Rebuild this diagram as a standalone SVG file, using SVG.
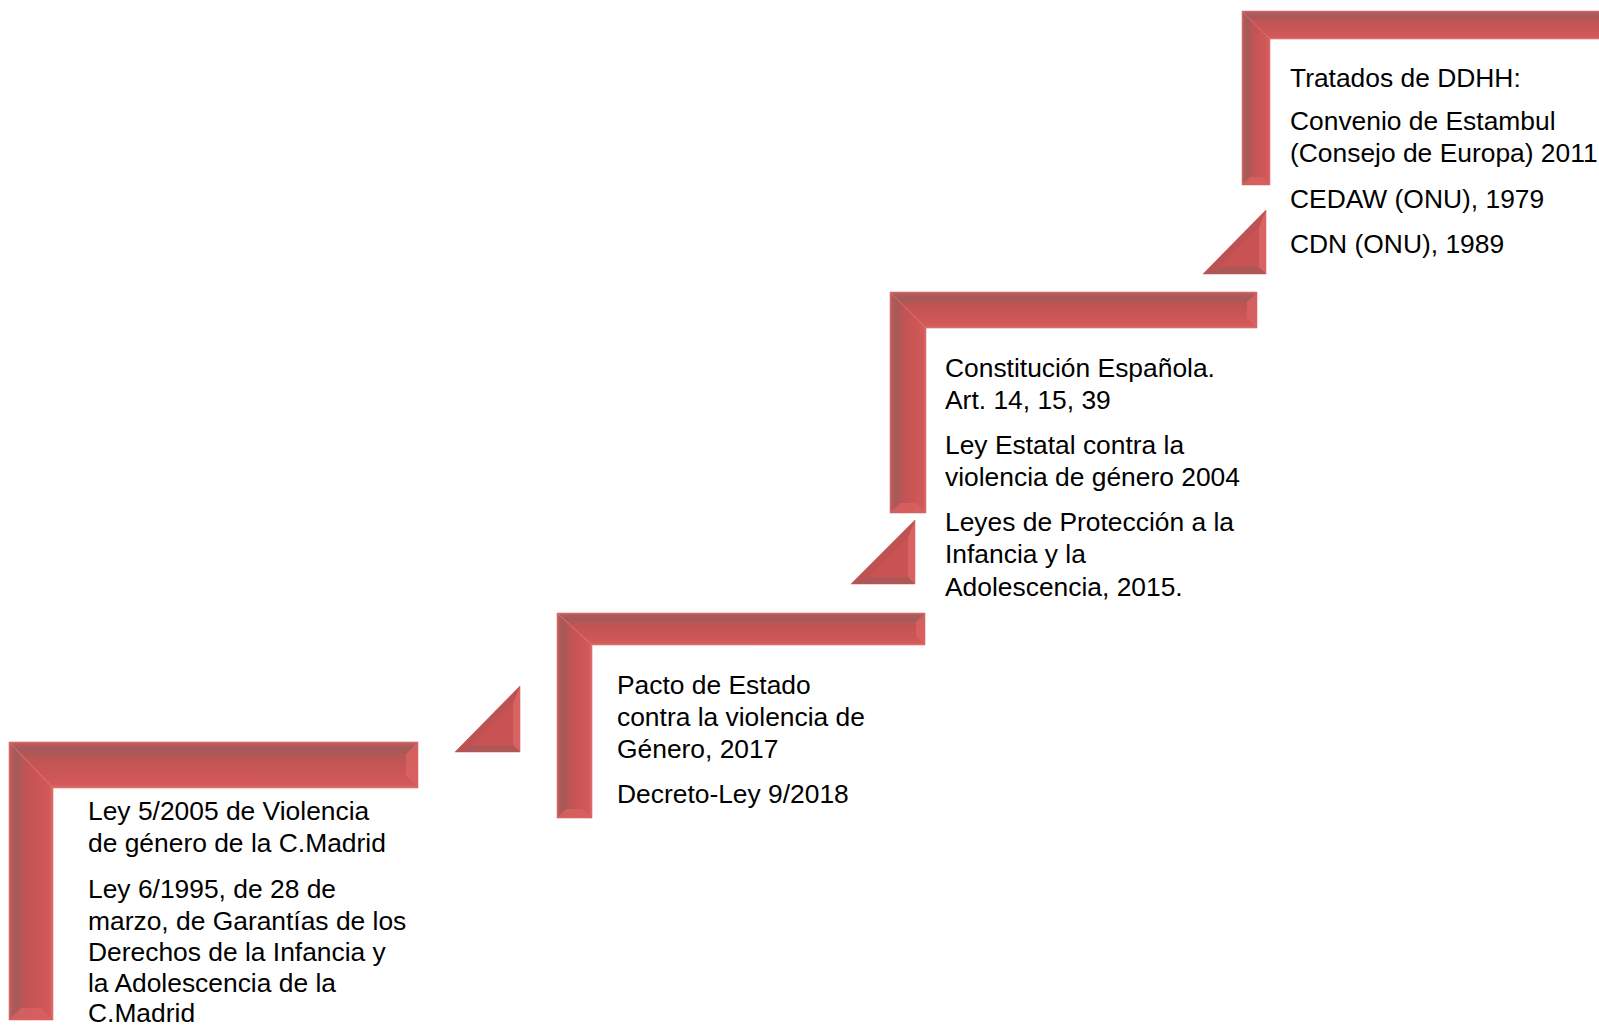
<svg xmlns="http://www.w3.org/2000/svg" width="1599" height="1026" viewBox="0 0 1599 1026">
  <style>
    .txt { font-family: "Liberation Sans", Arial, sans-serif; font-size: 26.4px; fill: #000000; }
    .hbar { fill: url(#gH); stroke: #d97272; stroke-width: 1; stroke-opacity: 0.6; }
    .vbar { fill: url(#gV); stroke: #d97272; stroke-width: 1; stroke-opacity: 0.6; }
    .endf { fill: #d96262; opacity: 0.85; }
    .botf { fill: #d86060; opacity: 0.85; }
    .tri { fill: #c95353; stroke: #d97272; stroke-width: 1; stroke-opacity: 0.6; }
    .tr { fill: #d96363; }
    .tb { fill: #ad5757; }
    .th { fill: #bd5252; }
  </style>
  <defs>
    <linearGradient id="gH" x1="0" y1="0" x2="0" y2="1">
      <stop offset="0" stop-color="#d66262"/>
      <stop offset="0.07" stop-color="#b05a5a"/>
      <stop offset="0.18" stop-color="#a65959"/>
      <stop offset="0.4" stop-color="#c25454"/>
      <stop offset="0.75" stop-color="#ce5656"/>
      <stop offset="0.93" stop-color="#d45a5a"/>
      <stop offset="1" stop-color="#de6c6c"/>
    </linearGradient>
    <linearGradient id="gV" x1="0" y1="0" x2="1" y2="0">
      <stop offset="0" stop-color="#d66262"/>
      <stop offset="0.07" stop-color="#b05a5a"/>
      <stop offset="0.18" stop-color="#a65959"/>
      <stop offset="0.4" stop-color="#c25454"/>
      <stop offset="0.75" stop-color="#ce5656"/>
      <stop offset="0.93" stop-color="#d45a5a"/>
      <stop offset="1" stop-color="#de6c6c"/>
    </linearGradient>
  </defs>
  <rect x="0" y="0" width="1599" height="1026" fill="#ffffff"/>

  <g id="connectors">
    <g id="tri1">
      <polygon class="tri" points="455,752 520,686 520,752"/>
      <polygon class="tr" points="520,686 520,752 513,745 513,703"/>
      <polygon class="tb" points="455,752 520,752 513,745 472,745"/>
      <polygon class="th" points="455,752 520,686 513,703 472,745"/>
    </g>
    <g id="tri2">
      <polygon class="tri" points="851,584 915,520 915,584"/>
      <polygon class="tr" points="915,520 915,584 908,577 908,537"/>
      <polygon class="tb" points="851,584 915,584 908,577 868,577"/>
      <polygon class="th" points="851,584 915,520 908,537 868,577"/>
    </g>
    <g id="tri3">
      <polygon class="tri" points="1203,274 1266,210 1266,274"/>
      <polygon class="tr" points="1266,210 1266,274 1259,267 1259,227"/>
      <polygon class="tb" points="1203,274 1266,274 1259,267 1220,267"/>
      <polygon class="th" points="1203,274 1266,210 1259,227 1220,267"/>
    </g>
  </g>

  <g id="step1">
    <polygon class="hbar" points="9,742 418,742 418,788 53,788"/>
    <polygon class="vbar" points="9,742 53,788 53,1020 9,1020"/>
    <polygon class="endf" points="418,742 418,788 406,776 406,754"/>
    <polygon class="botf" points="9,1020 53,1020 41,1008 21,1008"/>
    <text class="txt" x="88" y="820">Ley 5/2005 de Violencia</text>
    <text class="txt" x="88" y="852">de género de la C.Madrid</text>
    <text class="txt" x="88" y="898">Ley 6/1995, de 28 de</text>
    <text class="txt" x="88" y="930">marzo, de Garantías de los</text>
    <text class="txt" x="88" y="961">Derechos de la Infancia y</text>
    <text class="txt" x="88" y="992">la Adolescencia de la</text>
    <text class="txt" x="88" y="1022">C.Madrid</text>
  </g>

  <g id="step2">
    <polygon class="hbar" points="557,613 925,613 925,645 592,645"/>
    <polygon class="vbar" points="557,613 592,645 592,818 557,818"/>
    <polygon class="endf" points="925,613 925,645 916,636 916,622"/>
    <polygon class="botf" points="557,818 592,818 583,809 566,809"/>
    <text class="txt" x="617" y="694">Pacto de Estado</text>
    <text class="txt" x="617" y="726">contra la violencia de</text>
    <text class="txt" x="617" y="758">Género, 2017</text>
    <text class="txt" x="617" y="803">Decreto-Ley 9/2018</text>
  </g>

  <g id="step3">
    <polygon class="hbar" points="890,292 1257,292 1257,328 926,328"/>
    <polygon class="vbar" points="890,292 926,328 926,513 890,513"/>
    <polygon class="endf" points="1257,292 1257,328 1247,318 1247,302"/>
    <polygon class="botf" points="890,513 926,513 916,503 900,503"/>
    <text class="txt" x="945" y="377">Constitución Española.</text>
    <text class="txt" x="945" y="409">Art. 14, 15, 39</text>
    <text class="txt" x="945" y="454">Ley Estatal contra la</text>
    <text class="txt" x="945" y="486">violencia de género 2004</text>
    <text class="txt" x="945" y="531">Leyes de Protección a la</text>
    <text class="txt" x="945" y="563">Infancia y la</text>
    <text class="txt" x="945" y="596">Adolescencia, 2015.</text>
  </g>

  <g id="step4">
    <polygon class="hbar" points="1242,11 1610,11 1610,39 1270,39"/>
    <polygon class="vbar" points="1242,11 1270,39 1270,185 1242,185"/>
    <polygon class="botf" points="1242,185 1270,185 1262,177 1250,177"/>
    <text class="txt" x="1290" y="87">Tratados de DDHH:</text>
    <text class="txt" x="1290" y="130">Convenio de Estambul</text>
    <text class="txt" x="1290" y="162">(Consejo de Europa) 2011</text>
    <text class="txt" x="1290" y="208">CEDAW (ONU), 1979</text>
    <text class="txt" x="1290" y="253">CDN (ONU), 1989</text>
  </g>
</svg>
